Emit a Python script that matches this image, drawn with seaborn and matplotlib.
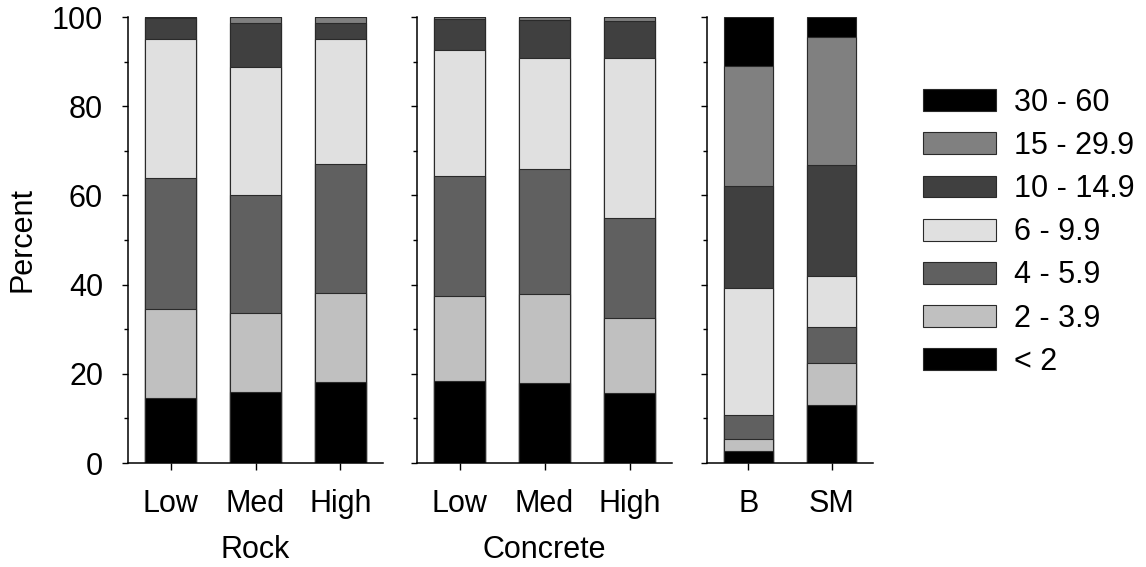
import numpy as np
import pandas as pd
import seaborn as sns
import matplotlib.pyplot as plt
from matplotlib.patches import Patch
from matplotlib.ticker import MultipleLocator

# size classes, bottom to top
classes = ["< 2", "2 - 3.9", "4 - 5.9", "6 - 9.9", "10 - 14.9", "15 - 29.9", "30 - 60"]
colors = ["#000000", "#c0c0c0", "#606060", "#e0e0e0", "#404040", "#808080", "#000000"]

rock_cats = ["Low", "Med", "High"]
rock_vals = [
    [14.6, 15.9, 18.2],   # < 2
    [20.0, 17.8, 19.9],   # 2 - 3.9
    [29.4, 26.4, 28.9],   # 4 - 5.9
    [31.0, 28.8, 28.0],   # 6 - 9.9
    [4.7, 9.8, 3.7],      # 10 - 14.9
    [0.3, 1.3, 1.3],      # 15 - 29.9
    [0.0, 0.0, 0.0],      # 30 - 60
]

concrete_cats = ["Low", "Med", "High"]
concrete_vals = [
    [18.3, 17.9, 15.6],
    [19.1, 19.9, 16.9],
    [26.9, 28.2, 22.4],
    [28.3, 24.9, 36.0],
    [6.9, 8.4, 8.1],
    [0.5, 0.7, 1.0],
    [0.0, 0.0, 0.0],
]

other_cats = ["B", "SM"]
other_vals = [
    [2.6, 12.9],
    [2.8, 9.6],
    [5.4, 7.9],
    [28.4, 11.6],
    [22.9, 24.8],
    [27.0, 28.7],
    [10.9, 4.5],
]

sns.set_style("ticks")
plt.rcParams['font.family'] = ['Liberation Sans', 'DejaVu Sans']
plt.rcParams['text.color'] = 'black'
plt.rcParams['xtick.color'] = 'black'
plt.rcParams['ytick.color'] = 'black'

fig = plt.figure(figsize=(11.46, 5.67), dpi=100)

panels = [
    (rock_cats, rock_vals, [0.1117, 0.1834, 0.2225, 0.7866]),
    (concrete_cats, concrete_vals, [0.3639, 0.1834, 0.2225, 0.7866]),
    (other_cats, other_vals, [0.6169, 0.1834, 0.1449, 0.7866]),
]

axes = []
for cats, vals, pos in panels:
    ax = fig.add_axes(pos)
    cum = np.cumsum(np.array(vals), axis=0)
    # draw stacked bars from the top class down
    for i in range(len(classes) - 1, -1, -1):
        df = pd.DataFrame({"cat": cats, "val": cum[i]})
        sns.barplot(data=df, x="cat", y="val", order=cats, color=colors[i],
                    width=0.6, edgecolor="#2a2a2a", linewidth=0.8,
                    saturation=1, ax=ax, errorbar=None)
    ax.set_xlim(-0.5, len(cats) - 0.5)
    ax.set_ylim(0, 100)
    ax.yaxis.set_major_locator(MultipleLocator(20))
    ax.yaxis.set_minor_locator(MultipleLocator(10))
    ax.set_xlabel("")
    ax.set_ylabel("")
    sns.despine(ax=ax)
    ax.tick_params(axis="both", which="major", direction="out", width=1,
                   labelsize=22, labelcolor="black")
    ax.tick_params(axis="y", which="major", length=4.5, pad=13.5)
    ax.tick_params(axis="y", which="minor", direction="out", length=3, width=1)
    ax.tick_params(axis="x", length=5, pad=14)
    for s in ["left", "bottom"]:
        ax.spines[s].set_color("black")
        ax.spines[s].set_linewidth(1.1)
    axes.append(ax)

axes[1].set_yticklabels([])
axes[2].set_yticklabels([])

fig.text(0.020, 0.577, "Percent", rotation=90, ha="center", va="center", fontsize=22)
fig.text(0.2229, 0.030, "Rock", ha="center", va="center", fontsize=22)
fig.text(0.4751, 0.030, "Concrete", ha="center", va="center", fontsize=22)

handles = [Patch(facecolor=colors[i], edgecolor="#2a2a2a", linewidth=0.8, label=classes[i])
           for i in range(len(classes) - 1, -1, -1)]
fig.legend(handles=handles, loc="upper left", bbox_to_anchor=(0.805, 0.845),
           frameon=False, fontsize=22, handlelength=2.4, handleheight=0.72,
           labelspacing=0.43, handletextpad=0.6, borderaxespad=0, borderpad=0)

fig.savefig("out.png", dpi=100)
